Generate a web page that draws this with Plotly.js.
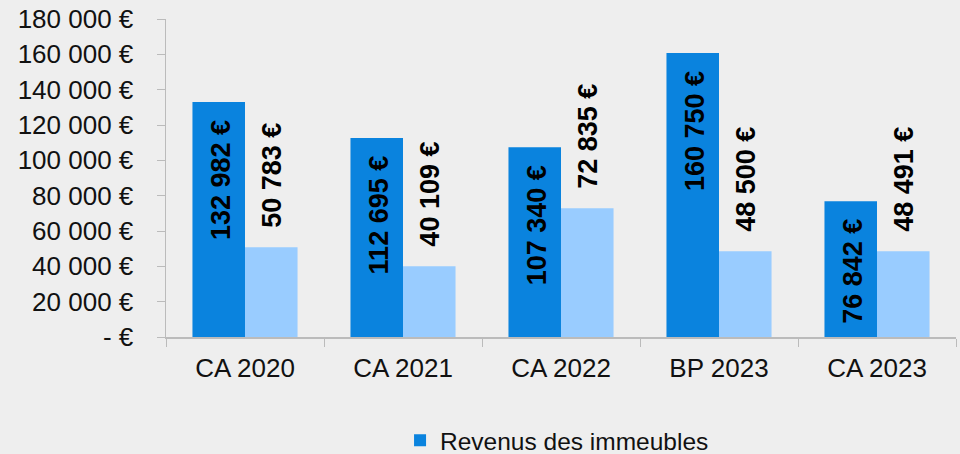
<!DOCTYPE html>
<html><head><meta charset="utf-8">
<script src="https://cdn.plot.ly/plotly-3.0.1.min.js"></script>
<style>html,body{margin:0;padding:0;background:#EEEEEE;}#chart{width:960px;height:454px;}</style>
</head><body><div id="chart"></div>
<script>
const categories = ["CA 2020", "CA 2021", "CA 2022", "BP 2023", "CA 2023"];
const revenus = [132982, 112695, 107340, 160750, 76842];
const charges = [50783, 40109, 72835, 48500, 48491];
const seriesNames = ["Revenus des immeubles", "Charges des immeubles"];
const tickVals = [0, 20000, 40000, 60000, 80000, 100000, 120000, 140000, 160000, 180000];
const tickText = ["- €", "20 000 €", "40 000 €", "60 000 €", "80 000 €", "100 000 €", "120 000 €", "140 000 €", "160 000 €", "180 000 €"];

function fmt(v){ return v.toString().replace(/\B(?=(\d{3})+(?!\d))/g, " ") + " €"; }

const traces = [
  {type:"bar", name:seriesNames[0], x:categories, y:revenus, marker:{color:"#0A83DE"}, hoverinfo:"none"},
  {type:"bar", name:seriesNames[1], x:categories, y:charges, marker:{color:"#99CCFF"}, showlegend:false, hoverinfo:"none"}
];

const labelFont = {family:"Liberation Sans, Arial, sans-serif", size:27, color:"#000"};
const annotations = [];
categories.forEach((c,i)=>{
  annotations.push({x:i, y:revenus[i], xref:"x", yref:"y", text:"<b>"+fmt(revenus[i])+"</b>", showarrow:false,
    textangle:-90, xshift:-24, yshift:-16, yanchor:"top", xanchor:"center", font:labelFont});
  annotations.push({x:i, y:charges[i], xref:"x", yref:"y", text:"<b>"+fmt(charges[i])+"</b>", showarrow:false,
    textangle:-90, xshift:27, yshift:17, yanchor:"bottom", xanchor:"center", font:labelFont});
});

const layout = {
  width:960, height:454,
  paper_bgcolor:"#EEEEEE", plot_bgcolor:"#EEEEEE",
  margin:{l:166, r:4, t:19, b:117, autoexpand:false},
  barmode:"group", bargap:0.335, bargroupgap:0,
  font:{family:"Liberation Sans, Arial, sans-serif", size:26, color:"#111"},
  xaxis:{type:"category", showline:true, linecolor:"#BBBBBB", linewidth:1.5, ticks:"outside", tickson:"boundaries",
    ticklen:8, tickcolor:"#BBBBBB", showgrid:false, zeroline:false, ticklabelstandoff:7, automargin:false,
    tickfont:{size:26, color:"#111"}},
  yaxis:{range:[0,180000], tickmode:"array", tickvals:tickVals, ticktext:tickText, showline:true, linecolor:"#BBBBBB",
    linewidth:1.5, ticks:"outside", ticklen:8, tickcolor:"#BBBBBB", showgrid:false, zeroline:false,
    ticklabelstandoff:18, automargin:false, tickfont:{size:26, color:"#111"}},
  showlegend:true,
  legend:{orientation:"h", x:0.495, xanchor:"center", y:-0.325, yanchor:"middle", font:{size:24.5, color:"#111"},
    bgcolor:"rgba(0,0,0,0)"},
  annotations:annotations
};
Plotly.newPlot("chart", traces, layout, {staticPlot:true});
</script></body></html>
